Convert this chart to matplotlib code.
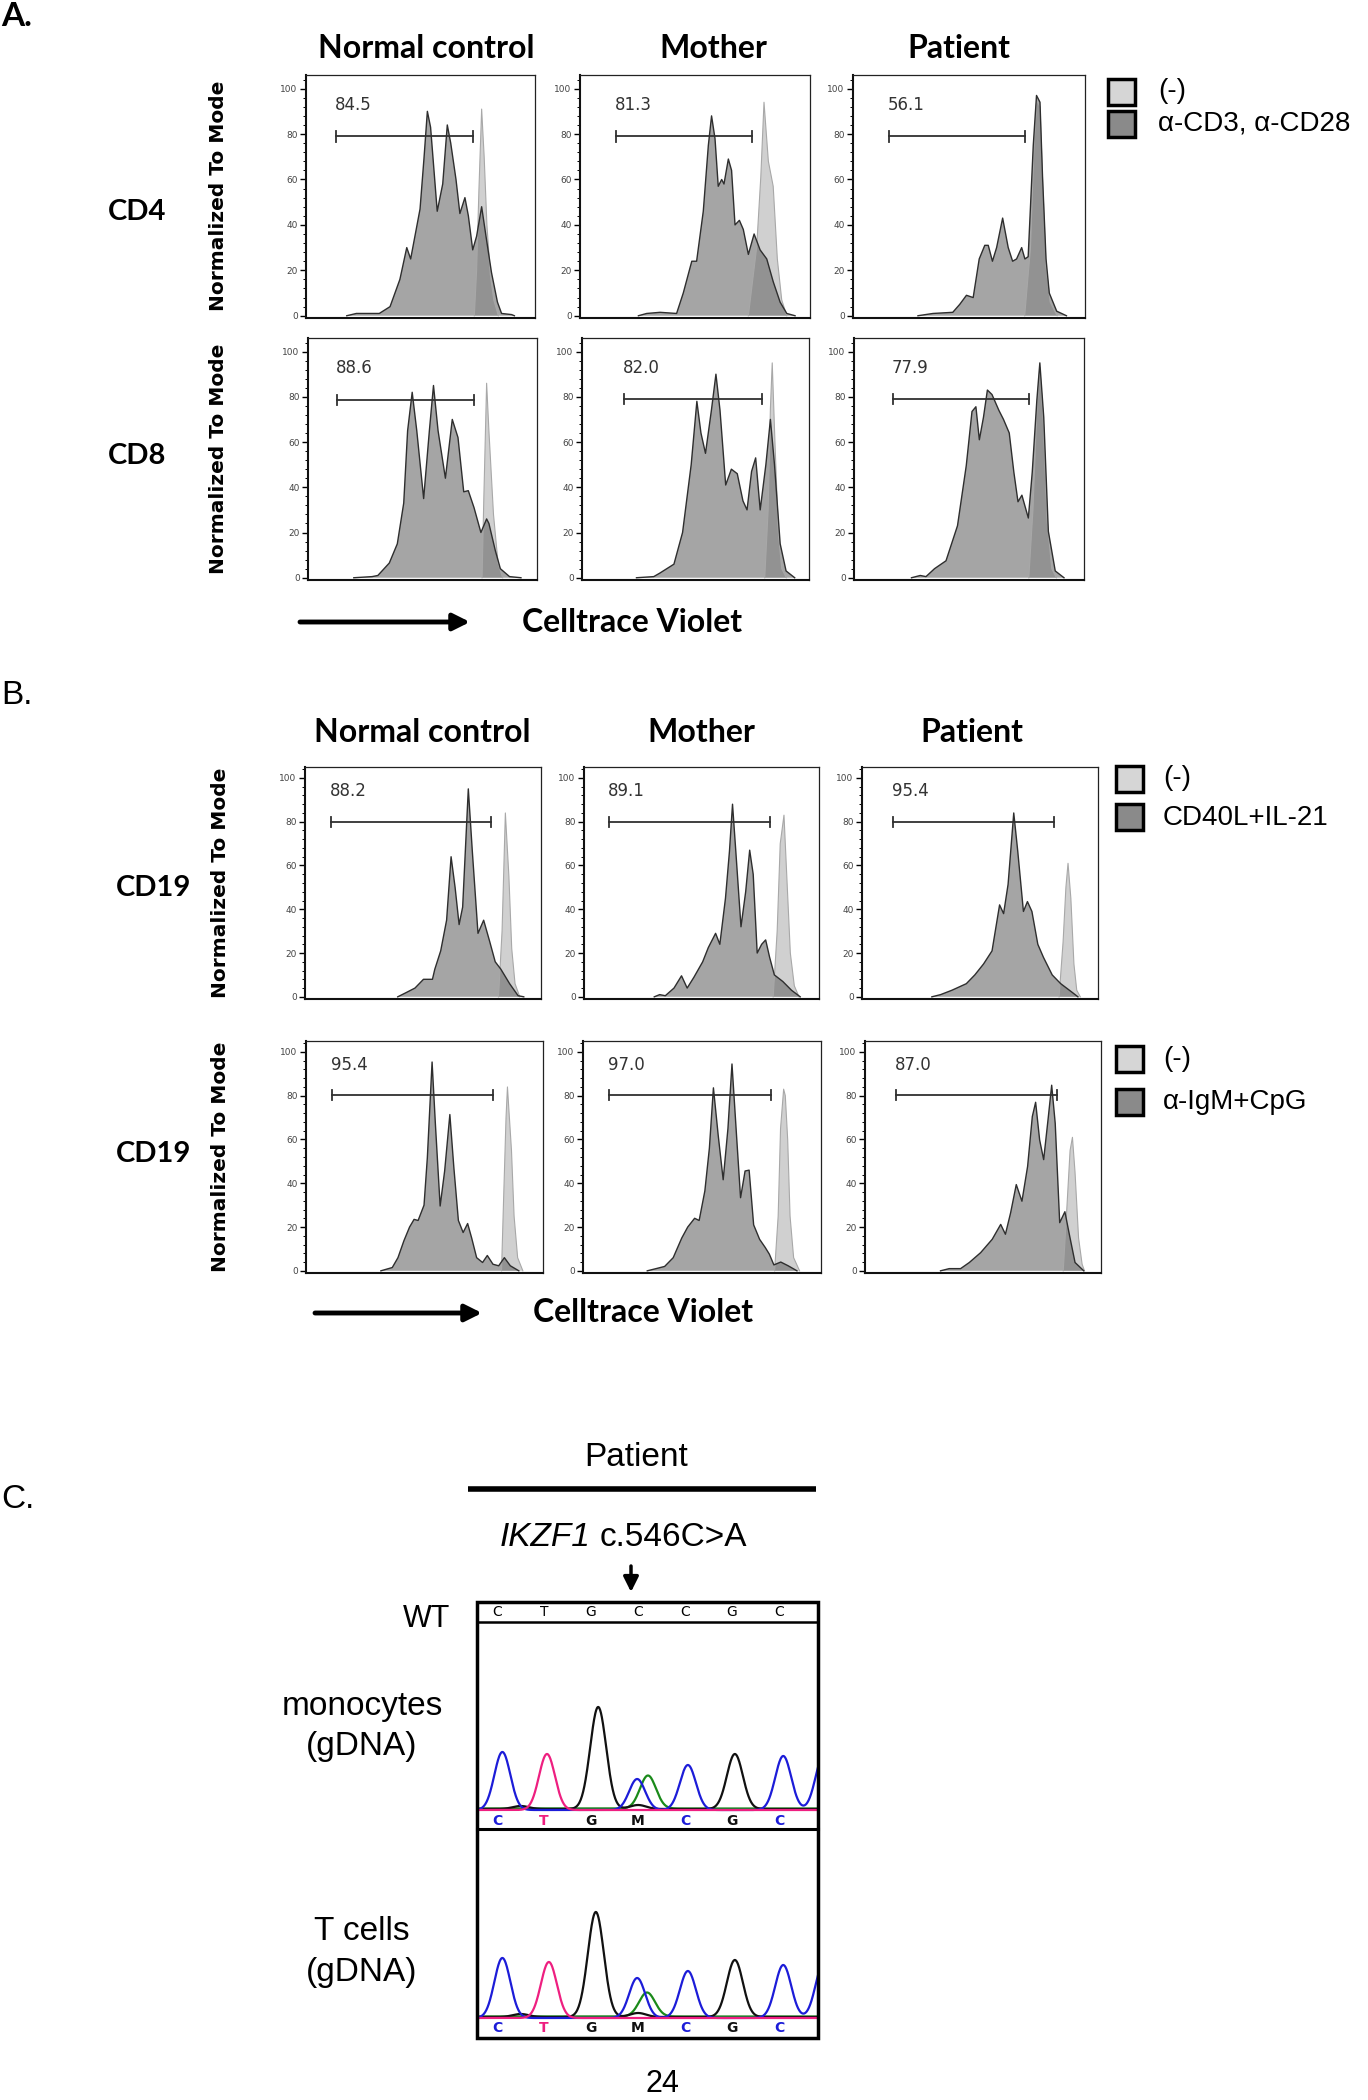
import numpy as np
import matplotlib
matplotlib.use("Agg")
import matplotlib.pyplot as plt
from matplotlib.patches import Rectangle
from matplotlib.ticker import MultipleLocator, FixedLocator

# ---------------- data ----------------
columns = ["Normal control", "Mother", "Patient"]
a_rows = ["CD4", "CD8"]
b_rows = ["CD19", "CD19"]
y_ticks = [0, 20, 40, 60, 80, 100]
legend_a = ["(-)", "α-CD3, α-CD28"]
legend_b1 = ["(-)", "CD40L+IL-21"]
legend_b2 = ["(-)", "α-IgM+CpG"]
x_label = "Celltrace Violet"
y_label = "Normalized To Mode"

# Panel A, CD4 row (x = % of axis width, y = normalized to mode)
cd4_nc_stim_x = [17.8, 22, 32, 36.7, 41, 44, 45.7, 49.8, 51.5, 53, 54.4, 57.3, 59.7, 61.7, 63.2, 65.5, 67.2, 69.4, 70.9, 72.8, 74.5, 76.7, 78.6, 81, 83.6, 85.4, 89.8, 91]
cd4_nc_stim_y = [0, 1, 1, 4, 16, 30, 25, 47, 69, 90, 83, 46, 58, 84, 76, 60, 45, 52, 44, 29, 35, 48, 35, 19, 6, 1, 0.5, 0]
cd4_nc_unst_x = [73.5, 74.5, 75.5, 76.7, 77.8, 79, 80.5, 82, 84]
cd4_nc_unst_y = [0, 20, 55, 91, 70, 40, 18, 7, 0]

cd4_mo_stim_x = [25.4, 29, 34.8, 42, 44.9, 48.6, 50.7, 53.6, 55.8, 57.2, 58.7, 60.1, 61.6, 62.6, 64.5, 65.9, 67.4, 69.3, 71, 73.2, 75.7, 78.3, 81.2, 84, 87, 89.9, 93.5]
cd4_mo_stim_y = [0, 1, 1.5, 1, 10, 24, 24, 46, 75, 88, 78, 57, 60, 58, 69, 64, 40, 42, 38, 27, 36, 29, 25, 15, 6, 1, 0]
cd4_mo_unst_x = [73.2, 76.8, 78.6, 80, 81.9, 84, 85.8, 87.7, 89.9]
cd4_mo_unst_y = [0, 30, 61, 94, 68, 57, 25, 7, 0]

cd4_pt_stim_x = [28, 34.5, 43, 46, 48.9, 51.8, 54.4, 56.8, 58.3, 60.1, 61.9, 64.5, 66.9, 68.8, 70.5, 72.7, 74.1, 75.5, 76.5, 77.7, 79.1, 80.6, 81.7, 83.2, 84.6, 87.8, 92]
cd4_pt_stim_y = [0, 1, 1.5, 5, 9, 8, 25, 31, 31, 24, 30, 43, 30, 24, 25, 30, 25, 26, 48, 75, 97, 94, 61, 25, 10, 2, 0]
cd4_pt_unst_x = [74, 76.5, 78, 79.2, 80.6, 81.7, 83.2, 85, 88]
cd4_pt_unst_y = [0, 30, 75, 95, 92, 60, 22, 6, 0]

# Panel A, CD8 row
cd8_nc_stim_x = [20, 28, 30.5, 35.5, 39, 41.8, 43.5, 45.5, 47.5, 50.5, 53, 54.8, 56.8, 60, 63, 65.5, 68, 70, 72.5, 75.5, 78, 79, 81.8, 84, 88, 93]
cd8_nc_stim_y = [0, 0.5, 1, 6.5, 15, 33, 65, 82, 65, 35, 65, 85, 65, 44, 70, 62, 38, 38.5, 31, 20, 26, 24, 12, 4, 0.5, 0]
cd8_nc_unst_x = [76, 76.8, 78, 79, 81, 83, 85]
cd8_nc_unst_y = [0, 36, 86, 65, 28, 6.5, 0]

cd8_mo_stim_x = [24, 31.6, 34.2, 40.5, 44.3, 48.1, 50.6, 52.4, 54.4, 57, 59, 60.8, 63.3, 65.8, 68.4, 70.9, 72.7, 74.7, 76.5, 78.5, 81, 83, 84.8, 87.3, 89.9, 93.7]
cd8_mo_stim_y = [0, 0.5, 2, 6, 20, 50, 78, 64, 55, 74, 90, 74, 41, 48, 46, 34, 30, 47, 53, 30, 50, 70, 50, 15, 3, 0]
cd8_mo_unst_x = [80.5, 82, 83, 83.8, 85, 86.5, 88, 90]
cd8_mo_unst_y = [0, 30, 75, 95, 60, 20, 4, 0]

cd8_pt_stim_x = [25, 28.8, 31.3, 35, 40, 45, 48.8, 51.3, 53, 54.5, 56.3, 58, 60, 63, 65, 67.5, 69.5, 71.3, 73, 75.8, 77.5, 79.5, 80.8, 82.5, 84.5, 87.5, 91.3]
cd8_pt_stim_y = [0, 1, 0.5, 4, 7.5, 23, 49.5, 73.5, 75.6, 61, 71, 83, 81, 74, 70, 64, 46.7, 33.6, 36.5, 26.4, 46.7, 78.5, 95, 71, 20.5, 3, 0]
cd8_pt_unst_x = [76, 77.8, 79.5, 80.8, 82.3, 84, 86, 88]
cd8_pt_unst_y = [0, 30, 75, 93, 70, 25, 4, 0]

# Panel B, CD40L+IL-21 row
b1_nc_stim_x = [39.3, 43, 46.6, 50.2, 54, 55, 57.5, 60, 61.9, 63.6, 65.3, 66.8, 69.2, 70.9, 73.3, 75.7, 78.2, 80.6, 83, 86.7, 90.3, 92.7]
b1_nc_stim_y = [0, 2, 4, 8, 8, 12.6, 21, 35, 64, 50, 33, 41, 95, 66.5, 29, 35, 25.5, 16, 12.6, 6, 0.5, 0]
b1_nc_unst_x = [82, 83.5, 84.9, 86.4, 87.6, 89, 91]
b1_nc_unst_y = [0, 30, 84, 55, 22, 6, 0]

b1_mo_stim_x = [29.9, 32.2, 34.6, 38.3, 41.5, 43.9, 46.8, 50.5, 52.9, 56, 57.8, 60.2, 61.9, 63.2, 64.6, 66.8, 68.8, 70.5, 72, 73.7, 75.6, 77.3, 79, 81, 84.6, 88.3, 92]
b1_mo_stim_y = [0, 1, 0.5, 4, 9.6, 4, 9, 16, 22.5, 29, 24, 45, 66.5, 88, 66.5, 32, 48, 67, 56, 20, 24, 26, 18, 10, 7, 3, 0]
b1_mo_unst_x = [80.5, 82.2, 83.5, 85.1, 86.3, 87.8, 89.5, 91.5]
b1_mo_unst_y = [0, 30, 70, 83, 55, 20, 5, 0]

b1_pt_stim_x = [29.6, 33.3, 38.1, 44.2, 47.8, 51.5, 55.1, 58.3, 60, 61.9, 64.3, 66, 68.4, 70.1, 72, 74.5, 76.9, 80.6, 84.2, 89.1, 91.5]
b1_pt_stim_y = [0, 1, 3, 6, 10, 15, 21, 42, 38, 51.4, 84, 66.5, 39, 43.5, 39, 24, 18, 10, 6, 2, 0]
b1_pt_unst_x = [83.5, 85.2, 86.4, 87.3, 88.5, 89.8, 91, 92.5]
b1_pt_unst_y = [0, 25, 50, 61, 45, 15, 3, 0]

# Panel B, a-IgM+CpG row
b2_nc_stim_x = [31.6, 36.4, 38.8, 41.3, 43.7, 45.6, 47.3, 49.8, 51.2, 53.2, 54.6, 56.6, 58.5, 60.7, 62.4, 64.3, 66.3, 68.2, 69.9, 72, 74.5, 76.5, 78.9, 81.3, 83.7, 86.2, 89.8]
b2_nc_stim_y = [0, 1.5, 6, 13.7, 20, 23.5, 23, 30, 51.7, 95.4, 67, 29.6, 45.6, 71.4, 47, 23, 17.5, 21.6, 15, 6, 3.8, 7, 3, 2.3, 6, 2.3, 0]
b2_nc_unst_x = [82.5, 83.3, 84.4, 85, 86.7, 87.8, 89.3, 91.5]
b2_nc_unst_y = [0, 30, 70, 84, 55, 25, 6, 0]

b2_mo_stim_x = [27, 30.7, 34.3, 37.9, 41.5, 44, 46.9, 48.8, 51.2, 53.1, 54.8, 56.8, 58.9, 60.9, 62.6, 64.5, 66.2, 68.1, 69.8, 71.7, 74.2, 76.6, 78.3, 80.2, 83.1, 86.2, 89.9]
b2_mo_stim_y = [0, 1, 2, 6, 15, 20, 24, 23, 36.5, 56, 83.6, 62, 41.6, 65, 94.5, 62, 33.4, 45.6, 46, 21, 14.4, 10.6, 7.6, 2.7, 4, 2.3, 0]
b2_mo_unst_x = [80.5, 82, 83, 84.3, 85, 86, 87, 88.5, 91]
b2_mo_unst_y = [0, 25, 65, 83, 80, 60, 25, 6, 0]

b2_pt_stim_x = [32, 35.7, 40.5, 44.2, 49, 53.9, 57.5, 59.5, 61.7, 64.1, 66.5, 68.9, 70.9, 72.3, 74, 75.7, 77.7, 79.1, 80.6, 82.5, 84.7, 86.7, 89, 92.7]
b2_pt_stim_y = [0, 1, 1, 3.8, 8.3, 14.4, 21.2, 16.7, 26.5, 39.4, 31.8, 47.7, 70.5, 77, 59.8, 50.8, 70.5, 84.8, 67.4, 22, 27, 16, 3.8, 0]
b2_pt_unst_x = [84, 85.6, 86.9, 87.9, 89, 90.5, 92, 93]
b2_pt_unst_y = [0, 30, 55, 61, 45, 15, 3, 0]

# gates: (start %, end %, level) and gate percentages
cd4_gates = [(13.1, 73, 79), (15.7, 74.6, 79), (15.4, 74, 79)]
cd4_pct = ["84.5", "81.3", "56.1"]
cd8_gates = [(12.5, 72.5, 78.5), (18.5, 79.2, 79), (17, 76.3, 79)]
cd8_pct = ["88.6", "82.0", "77.9"]
b1_gates = [(10.9, 78.9, 80), (10.7, 79.3, 80), (13.3, 81.3, 80)]
b1_pct = ["88.2", "89.1", "95.4"]
b2_gates = [(10.9, 78.9, 80.5), (10.9, 79, 80.5), (13.3, 81.3, 80.5)]
b2_pct = ["95.4", "97.0", "87.0"]

# Panel C: Sanger chromatogram (peak centre in base index, peak height)
wt_seq = ["C", "T", "G", "C", "C", "G", "C"]
call_seq = ["C", "T", "G", "M", "C", "G", "C"]
mono_C_pos = [0.11, 2.98, 4.06, 6.09, 6.95]
mono_C_h = [58, 31, 45, 54, 55]
mono_T_pos = [1.06]
mono_T_h = [56]
mono_G_pos = [2.15, 5.06, 0.5, 3.0]
mono_G_h = [102, 55, 3, 4]
mono_A_pos = [3.21]
mono_A_h = [33]
tcell_C_pos = [0.11, 2.98, 4.06, 6.09, 6.95]
tcell_C_h = [60, 40, 47, 53, 55]
tcell_T_pos = [1.1]
tcell_T_h = [56]
tcell_G_pos = [2.1, 5.06, 0.5, 3.0]
tcell_G_h = [105, 57, 3, 4]
tcell_A_pos = [3.19]
tcell_A_h = [24]

# ---------------- figure ----------------
W, H = 1368, 2100
fig = plt.figure(figsize=(W / 100, H / 100), dpi=100)
fig.patch.set_facecolor("white")

TITLE_FONT = ["Lato", "DejaVu Sans"]
ARIAL = ["Liberation Sans", "DejaVu Sans"]


def px_axes(l, t, r, b, z=1):
    return fig.add_axes([l / W, 1 - b / H, (r - l) / W, (b - t) / H], zorder=z)


STIM_FILL, UNST_FILL = "#6a6a6a", "#b2b2b2"


def draw_hist(ax, sx, sy, ux, uy, gate, pct, ytop, pct_y):
    ax.fill(ux, uy, color=UNST_FILL, alpha=0.6, lw=0)
    ax.plot(ux, uy, color="#a8a8a8", lw=0.8)
    ax.fill(sx, sy, color=STIM_FILL, alpha=0.6, lw=0)
    ax.plot(sx, sy, color="#2e2e2e", lw=1.0)
    x0, x1, yg = gate
    ax.plot([x0, x1], [yg, yg], color="#303030", lw=1.3)
    for xe in (x0, x1):
        ax.plot([xe, xe], [yg - 2.3, yg + 2.3], color="#303030", lw=1.3)
    ax.text(x0 - 0.5, pct_y, pct, fontsize=12, color="#333333", ha="left",
            va="center", family="DejaVu Sans")
    ax.set_xlim(0, 100)
    ax.set_ylim(-1, ytop)
    ax.set_xticks([])
    ax.yaxis.set_major_locator(FixedLocator(y_ticks))
    ax.yaxis.set_minor_locator(MultipleLocator(4))
    ax.tick_params(axis="y", which="major", direction="out", length=4,
                   width=1.0, labelsize=6.5, labelcolor="#444444", pad=2)
    ax.tick_params(axis="y", which="minor", direction="out", length=2.2, width=0.7)
    for s in ("top", "right"):
        ax.spines[s].set_linewidth(0.9)
        ax.spines[s].set_color("#222222")
    for s in ("left", "bottom"):
        ax.spines[s].set_linewidth(1.5)
        ax.spines[s].set_color("#111111")


# axes boxes (pixels: left, top, right, bottom)
a_boxes = [
    [(306, 75, 535, 318), (580, 75, 810, 318), (853, 75, 1085, 318)],
    [(308, 338, 537, 580), (582, 338, 809, 580), (854, 338, 1084, 580)],
]
b_boxes = [
    [(305, 767, 541, 999), (584, 767, 819, 999), (862, 767, 1098, 999)],
    [(306, 1041, 543, 1273), (583, 1041, 821, 1273), (865, 1041, 1101, 1273)],
]

a_data = [
    [(cd4_nc_stim_x, cd4_nc_stim_y, cd4_nc_unst_x, cd4_nc_unst_y),
     (cd4_mo_stim_x, cd4_mo_stim_y, cd4_mo_unst_x, cd4_mo_unst_y),
     (cd4_pt_stim_x, cd4_pt_stim_y, cd4_pt_unst_x, cd4_pt_unst_y)],
    [(cd8_nc_stim_x, cd8_nc_stim_y, cd8_nc_unst_x, cd8_nc_unst_y),
     (cd8_mo_stim_x, cd8_mo_stim_y, cd8_mo_unst_x, cd8_mo_unst_y),
     (cd8_pt_stim_x, cd8_pt_stim_y, cd8_pt_unst_x, cd8_pt_unst_y)],
]
b_data = [
    [(b1_nc_stim_x, b1_nc_stim_y, b1_nc_unst_x, b1_nc_unst_y),
     (b1_mo_stim_x, b1_mo_stim_y, b1_mo_unst_x, b1_mo_unst_y),
     (b1_pt_stim_x, b1_pt_stim_y, b1_pt_unst_x, b1_pt_unst_y)],
    [(b2_nc_stim_x, b2_nc_stim_y, b2_nc_unst_x, b2_nc_unst_y),
     (b2_mo_stim_x, b2_mo_stim_y, b2_mo_unst_x, b2_mo_unst_y),
     (b2_pt_stim_x, b2_pt_stim_y, b2_pt_unst_x, b2_pt_unst_y)],
]
a_gates = [cd4_gates, cd8_gates]
a_pcts = [cd4_pct, cd8_pct]
b_gates = [b1_gates, b2_gates]
b_pcts = [b1_pct, b2_pct]

for r in range(2):
    for c in range(3):
        ax = px_axes(*a_boxes[r][c])
        sx, sy, ux, uy = a_data[r][c]
        draw_hist(ax, sx, sy, ux, uy, a_gates[r][c], a_pcts[r][c], 106, 92.7)
        ax = px_axes(*b_boxes[r][c])
        sx, sy, ux, uy = b_data[r][c]
        draw_hist(ax, sx, sy, ux, uy, b_gates[r][c], b_pcts[r][c], 105, 94)

# ---------------- chromatogram ----------------
BASE_COL = {"C": "#1c1cd8", "T": "#ee1f80", "G": "#111111", "A": "#1a8a1a", "M": "#111111"}
X_LEFT, X_RIGHT = -0.43, 6.83
SIG = 0.17


def trace(ax, pos, hts, col, off):
    xs = np.linspace(X_LEFT - 0.2, X_RIGHT + 0.3, 900)
    ys = np.full_like(xs, off, dtype=float)
    for p, h in zip(pos, hts):
        ys += h * np.exp(-0.5 * ((xs - p) / SIG) ** 2)
    ax.plot(xs, ys, color=col, lw=1.6, solid_joinstyle="miter")


def chromatogram(box, ylim, C, T, G, A, letter_y):
    ax = px_axes(*box, z=2)
    ax.set_xlim(X_LEFT, X_RIGHT)
    ax.set_ylim(*ylim)
    ax.axis("off")
    trace(ax, A[0], A[1], BASE_COL["A"], 1.5)
    trace(ax, G[0], G[1], BASE_COL["G"], 1.0)
    trace(ax, C[0], C[1], BASE_COL["C"], 0.0)
    trace(ax, T[0], T[1], BASE_COL["T"], 0.0)
    for i, b in enumerate(call_seq):
        ax.text(i, letter_y, b, color=BASE_COL[b], fontsize=10, ha="center",
                va="center", family="DejaVu Sans", fontweight="bold")
    return ax


chromatogram((477, 1622, 818, 1829), (-19, 188),
             (mono_C_pos, mono_C_h), (mono_T_pos, mono_T_h),
             (mono_G_pos, mono_G_h), (mono_A_pos, mono_A_h), -11)
chromatogram((477, 1829, 818, 2038), (-20, 189),
             (tcell_C_pos, tcell_C_h), (tcell_T_pos, tcell_T_h),
             (tcell_G_pos, tcell_G_h), (tcell_A_pos, tcell_A_h), -10)

# ---------------- overlay (texts, legends, arrows) ----------------
ov = fig.add_axes([0, 0, 1, 1], zorder=5)
ov.set_xlim(0, W)
ov.set_ylim(H, 0)
ov.axis("off")
ov.patch.set_alpha(0)

# panel letters
ov.text(1, 17, "A.", fontsize=24, fontweight="bold", family=TITLE_FONT, va="center", ha="left")
ov.text(1, 695, "B.", fontsize=24, family=ARIAL, va="center", ha="left")
ov.text(1, 1500, "C.", fontsize=24, family=ARIAL, va="center", ha="left")

# column titles
for x, t in zip([426, 713, 959], columns):
    ov.text(x, 48, t, fontsize=23, fontweight="bold", family=TITLE_FONT, ha="center", va="center")
for x, t in zip([422, 701, 972], columns):
    ov.text(x, 732, t, fontsize=23, fontweight="bold", family=TITLE_FONT, ha="center", va="center")

# row labels and y labels
for y, t in zip([212, 456], a_rows):
    ov.text(137, y, t, fontsize=21, fontweight="bold", family=TITLE_FONT, ha="center", va="center")
for y, t in zip([888, 1154], b_rows):
    ov.text(154, y, t, fontsize=21, fontweight="bold", family=TITLE_FONT, ha="center", va="center")
for x, y in [(218, 196), (218, 459), (221, 883), (221, 1157)]:
    ov.text(x, y, y_label, fontsize=14.5, fontweight="bold", family="DejaVu Sans",
            rotation=90, ha="center", va="center")

# x-axis arrows and labels
for (x0, x1, y, xt) in [(300, 470, 622, 632), (315, 482, 1313, 643)]:
    ov.annotate("", xy=(x1, y), xytext=(x0, y),
                arrowprops=dict(arrowstyle="-|>,head_length=1.0,head_width=0.5",
                                lw=3.5, color="black", shrinkA=0, shrinkB=0))
    ov.text(xt, y, x_label, fontsize=23, fontweight="bold", family=TITLE_FONT,
            ha="center", va="center")

# legends
LIGHT, DARK = "#d6d6d6", "#8a8a8a"


def legend(x_sq, x_txt, tops, centers, labels):
    for top, cy, lab, col in zip(tops, centers, labels, [LIGHT, DARK]):
        ov.add_patch(Rectangle((x_sq, top), 27, 26, facecolor=col, edgecolor="black", lw=2.5))
        ov.text(x_txt, cy, lab, fontsize=20, family=ARIAL, ha="left", va="center")


legend(1108, 1158, [79, 111], [91, 124], legend_a)
legend(1116, 1163, [766, 804], [778, 818], legend_b1)
legend(1116, 1163, [1046, 1089], [1059, 1102], legend_b2)

# panel C header
ov.text(636, 1457, "Patient", fontsize=24, family=ARIAL, ha="center", va="center")
ov.plot([468, 816], [1489, 1489], color="black", lw=4, solid_capstyle="butt")
ov.text(591, 1537, "IKZF1", fontsize=24, family=ARIAL, style="italic", ha="right", va="center")
ov.text(600, 1537, "c.546C>A", fontsize=24, family=ARIAL, ha="left", va="center")
ov.annotate("", xy=(631, 1592), xytext=(631, 1566),
            arrowprops=dict(arrowstyle="-|>,head_length=0.9,head_width=0.45",
                            lw=2.5, color="black", shrinkA=0, shrinkB=0))
ov.text(427, 1619, "WT", fontsize=22, family=ARIAL, ha="center", va="center")
ov.text(362, 1706, "monocytes", fontsize=24, family=ARIAL, ha="center", va="center")
ov.text(362, 1746, "(gDNA)", fontsize=24, family=ARIAL, ha="center", va="center")
ov.text(362, 1932, "T cells", fontsize=24, family=ARIAL, ha="center", va="center")
ov.text(362, 1972, "(gDNA)", fontsize=24, family=ARIAL, ha="center", va="center")
ov.text(662, 2084, "24", fontsize=22, family=ARIAL, ha="center", va="center")

# sequence box
ov.add_patch(Rectangle((477, 1602), 341, 436, facecolor="none", edgecolor="black", lw=2.5))
ov.plot([477, 818], [1622, 1622], color="black", lw=1.8)
ov.plot([477, 818], [1829, 1829], color="black", lw=2.2)
for i, b in enumerate(wt_seq):
    ov.text(497 + 47 * i, 1612, b, fontsize=10, family="DejaVu Sans", ha="center", va="center")

fig.savefig("out.png", dpi=100, facecolor="white")
